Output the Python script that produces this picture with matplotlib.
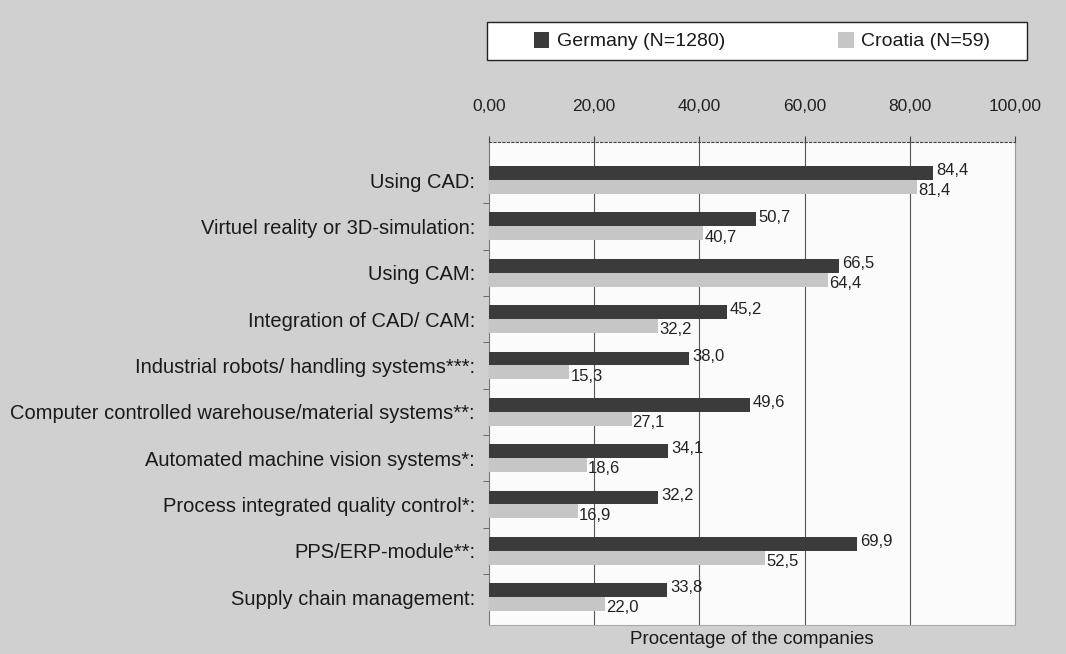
import numpy as np
import matplotlib.pyplot as plt
from matplotlib.patches import Rectangle

plt.rcParams['font.family'] = ['Liberation Sans', 'DejaVu Sans']

# Dados
categories = [
  'Using CAD:',
  'Virtuel reality or 3D-simulation:',
  'Using CAM:',
  'Integration of CAD/ CAM:',
  'Industrial robots/ handling systems***:',
  'Computer controlled warehouse/material systems**:',
  'Automated machine vision systems*:',
  'Process integrated quality control*:',
  'PPS/ERP-module**:',
  'Supply chain management:',
]
germany = [84.4, 50.7, 66.5, 45.2, 38.0, 49.6, 34.1, 32.2, 69.9, 33.8]
croatia = [81.4, 40.7, 64.4, 32.2, 15.3, 27.1, 18.6, 16.9, 52.5, 22.0]
xticks = [0, 20, 40, 60, 80, 100]

c_ger = '#3b3b3b'
c_cro = '#c6c6c6'

fig = plt.figure(figsize=(10.66, 6.54), dpi=100)
fig.patch.set_facecolor('#d0d0d0')
ax = fig.add_axes([489 / 1066, 1 - 625 / 654, (1015 - 489) / 1066, (625 - 142) / 654])
ax.set_facecolor('#fbfbfb')

y = np.arange(len(categories))
h = 0.30
ax.barh(y - h / 2, germany, height=h, color=c_ger, label='Germany (N=1280)', zorder=3)
ax.barh(y + h / 2, croatia, height=h, color=c_cro, label='Croatia (N=59)', zorder=3)

for i in range(len(categories)):
  ax.text(germany[i] + 0.6, y[i] - h / 2 - 0.05, f'{germany[i]:.1f}'.replace('.', ','),
          va='center', ha='left', fontsize=12, color='#222222', zorder=4)
  ax.text(croatia[i] + 0.2, y[i] + h / 2 + 0.08, f'{croatia[i]:.1f}'.replace('.', ','),
          va='center', ha='left', fontsize=12, color='#222222', zorder=4)

ax.set_xlim(0, 100)
ax.set_ylim(9.6, -0.82)
ax.xaxis.tick_top()
ax.set_xticks(xticks)
ax.set_xticklabels([f'{v:.2f}'.replace('.', ',') for v in xticks], fontsize=12.5, color='#222222')
ax.tick_params(axis='x', length=4, pad=16, color='#444444')
ax.set_yticks(y)
ax.set_yticklabels(categories, fontsize=14.5, color='#1a1a1a')
ax.tick_params(axis='y', length=0, pad=10)
ax.set_yticks(y[:-1] + 0.5, minor=True)
ax.tick_params(axis='y', which='minor', length=4, color='#555555')

for v in xticks[1:-1]:
  ax.axvline(v, color='#555555', lw=0.8, zorder=1)

ax.spines['top'].set_linestyle((0, (2, 2)))
ax.spines['top'].set_color('#444444')
ax.spines['left'].set_color('#777777')
ax.spines['right'].set_color('#999999')
ax.spines['bottom'].set_color('#aaaaaa')

ax.text(0.5, -0.03, 'Procentage of the companies', transform=ax.transAxes,
        ha='center', va='center', fontsize=13.5, color='#1a1a1a')

# legenda em caixa
fig.patches.append(Rectangle((487 / 1066, 1 - 60 / 654), 540 / 1066, 38 / 654,
                             transform=fig.transFigure, facecolor='white',
                             edgecolor='#222222', lw=1))
leg = fig.legend(loc='center', bbox_to_anchor=(762 / 1066, 1 - 41 / 654), ncol=2,
                 frameon=False, fontsize=14, handlelength=0.8, handleheight=0.9,
                 handletextpad=0.4, columnspacing=5.8)
for t in leg.get_texts():
  t.set_color('#1a1a1a')

fig.savefig('out.png', dpi=100, facecolor=fig.get_facecolor())
